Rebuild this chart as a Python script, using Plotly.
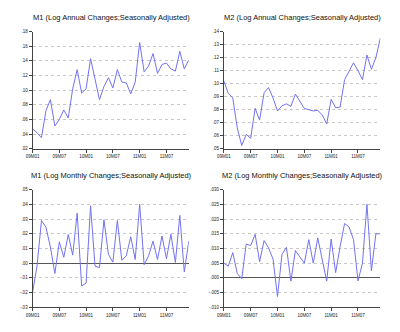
import plotly.graph_objects as go

# Monthly periods 2009M01 .. 2011M12
periods = [f"{y:02d}M{m:02d}" for y in (9, 10, 11) for m in range(1, 13)]
x_ticks = ["09M01", "09M07", "10M01", "10M07", "11M01", "11M07"]

m1_annual = [0.047, 0.042, 0.035, 0.072, 0.087, 0.051, 0.060, 0.073, 0.062, 0.102,
             0.128, 0.096, 0.102, 0.143, 0.115, 0.087, 0.105, 0.117, 0.103, 0.128,
             0.111, 0.110, 0.095, 0.111, 0.165, 0.125, 0.133, 0.150, 0.123, 0.135,
             0.137, 0.129, 0.126, 0.153, 0.129, 0.141]
m2_annual = [0.102, 0.0925, 0.089, 0.066, 0.0525, 0.061, 0.058, 0.081, 0.072, 0.093,
             0.097, 0.089, 0.079, 0.083, 0.0845, 0.0825, 0.092, 0.087, 0.081, 0.080,
             0.079, 0.0795, 0.076, 0.069, 0.088, 0.0815, 0.082, 0.103, 0.110, 0.116,
             0.110, 0.103, 0.122, 0.111, 0.120, 0.135]
m1_monthly = [-0.0198, -0.002, 0.029, 0.0245, 0.011, -0.007, 0.0145, 0.004, 0.0195, 0.0055,
              0.034, -0.0155, -0.0135, 0.039, -0.002, -0.003, 0.0295, 0.006, 0.0007, 0.029,
              0.002, 0.005, 0.018, 0.0025, 0.040, -0.001, 0.005, 0.015, 0.0025, 0.0185,
              0.003, 0.0197, 0.0005, 0.0325, -0.006, 0.015]
m2_monthly = [0.005, 0.004, 0.0086, 0.0015, -0.0003, 0.0115, 0.011, 0.0148, 0.0055, 0.0127,
              0.0102, 0.0064, -0.0063, 0.008, 0.0104, -0.0011, 0.0093, 0.007, 0.005, 0.013,
              0.005, 0.0136, 0.0067, -0.0011, 0.0132, 0.0018, 0.0106, 0.0185, 0.0173, 0.013,
              -0.001, 0.005, 0.025, 0.0024, 0.015, 0.015]

m1_annual_ticks = [0.02, 0.04, 0.06, 0.08, 0.10, 0.12, 0.14, 0.16, 0.18]
m2_annual_ticks = [0.05, 0.06, 0.07, 0.08, 0.09, 0.10, 0.11, 0.12, 0.13, 0.14]
m1_monthly_ticks = [-0.03, -0.02, -0.01, 0.00, 0.01, 0.02, 0.03, 0.04, 0.05]
m2_monthly_ticks = [-0.010, -0.005, 0.000, 0.005, 0.010, 0.015, 0.020, 0.025, 0.030]

titles = ["M1 (Log Annual Changes;Seasonally Adjusted)",
          "M2 (Log Annual Changes;Seasonally Adjusted)",
          "M1 (Log Monthly Changes;Seasonally Adjusted)",
          "M2 (Log Monthly Changes;Seasonally Adjusted)"]

W, H = 400, 332
LINE = "#7272f0"
AXIS = "#444444"
FONT = "Liberation Sans, Arial, sans-serif"


def fmt(v, nd):
    s = f"{v:.{nd}f}"
    return s.replace("0.", ".", 1)


# panel pixel boxes: (x0, x1, ytop, ybottom)
panels = [
    (m1_annual, m1_annual_ticks, 2, (26, 185, 30, 149)),
    (m2_annual, m2_annual_ticks, 2, (220.7, 380, 30, 149)),
    (m1_monthly, m1_monthly_ticks, 2, (26, 185, 190.5, 310)),
    (m2_monthly, m2_monthly_ticks, 3, (220.7, 380, 190.5, 310)),
]

fig = go.Figure()
layout = dict(
    width=W, height=H, margin=dict(l=0, r=0, t=0, b=0),
    paper_bgcolor="white", plot_bgcolor="white", showlegend=False,
    font=dict(family=FONT, color="black"),
)
annotations = []
for i, (vals, ticks, nd, (x0, x1, yt, yb)) in enumerate(panels):
    n = "" if i == 0 else str(i + 1)
    fig.add_trace(go.Scatter(x=periods, y=vals, mode="lines",
                             line=dict(color=LINE, width=1),
                             xaxis="x" + n, yaxis="y" + n, hoverinfo="skip"))
    layout["xaxis" + n] = dict(
        domain=[x0 / W, x1 / W], anchor="y" + n, type="category",
        range=[0, len(periods) - 1], tickmode="array", tickvals=x_ticks,
        ticktext=x_ticks, ticks="outside", ticklen=3, tickcolor=AXIS,
        showline=True, linecolor=AXIS, linewidth=1, showgrid=False,
        zeroline=False, tickfont=dict(size=4.5, color="#222222"),
    )
    has_zero = ticks[0] < 0
    layout["yaxis" + n] = dict(
        domain=[1 - yb / H, 1 - yt / H], anchor="x" + n,
        range=[ticks[0], ticks[-1]], tickmode="array", tickvals=ticks,
        ticktext=[fmt(t, nd) for t in ticks], ticks="outside", ticklen=3,
        tickcolor=AXIS, showline=True, linecolor=AXIS, linewidth=1,
        showgrid=True, gridcolor="#c8c8c8", griddash="dot", gridwidth=1,
        zeroline=has_zero, zerolinecolor="#555555", zerolinewidth=1,
        tickfont=dict(size=4.5, color="#222222"),
    )
    annotations.append(dict(
        text=titles[i], xref="paper", yref="paper",
        x=((x0 + x1) / 2 + 0.5) / W, y=1 - (yt - 14.5) / H,
        xanchor="center", yanchor="middle", showarrow=False,
        font=dict(size=7.5, color="#111111", family=FONT),
    ))

layout["annotations"] = annotations
fig.update_layout(**layout)
fig.write_html("out.html")
